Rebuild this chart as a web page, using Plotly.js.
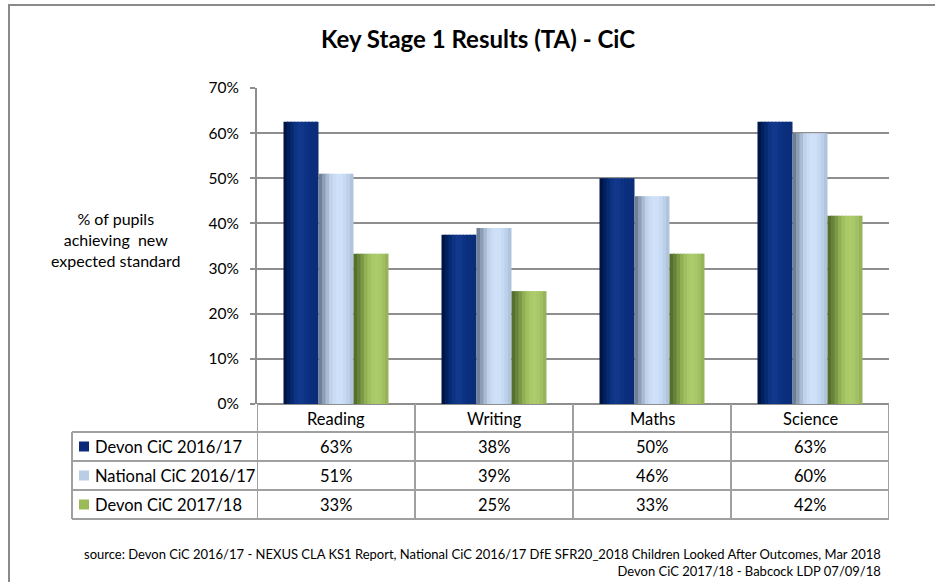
<!DOCTYPE html>
<html>
<head>
<meta charset="utf-8">
<script src="https://cdn.plot.ly/plotly-3.0.1.min.js"></script>
<style>
html,body{margin:0;padding:0;background:#fff;}
#chart{width:935px;height:582px;}
</style>
</head>
<body>
<div id="chart"></div>
<script>
// ---- data ----
const categories = ['Reading', 'Writing', 'Maths', 'Science'];
const seriesNames = ['Devon CiC 2016/17', 'National CiC 2016/17', 'Devon CiC 2017/18'];
const devon1617 = [62.5, 37.5, 50.0, 62.5];
const national1617 = [51.0, 39.0, 46.0, 60.0];
const devon1718 = [33.3, 25.0, 33.3, 41.7];
const yTickVals = [0, 10, 20, 30, 40, 50, 60, 70];
const titleText = 'Key Stage 1 Results (TA) - CiC';
const yLabel = '% of pupils<br>achieving  new<br>expected standard';
const sourceText = 'source: Devon CiC 2016/17 - NEXUS CLA KS1 Report, National CiC 2016/17 DfE SFR20_2018 Children Looked After Outcomes, Mar 2018<br>Devon CiC 2017/18 - Babcock LDP 07/09/18';

// ---- styles ----
const seriesValues = [devon1617, national1617, devon1718];
const keyColors = ['#0d2a78', '#b9cde5', '#9bbb59'];
const shades = [
  ['#001445','#00205e','#072a74','#0d3383','#11388b','#10378a','#0c3284','#0a2f7e','#0a2e7c','#0b2d78'],
  ['#6f7f98','#8d9db4','#a9bbd2','#bfd2ea','#c9dcf4','#cfe1f8','#cde0f7','#c6daf3','#bcd0ea','#b0c4de'],
  ['#55702c','#67833a','#7c9a46','#91b054','#a0bf60','#a9c867','#accb6a','#a9c868','#a2c063','#97b45a']
];
const font = 'Lato, "Open Sans", sans-serif';
const W = 935, H = 582;
const L = 257, R = 889, T = 88, B = 404;
const px = x => (x - L) / (R - L);
const py = y => (B - y) / (B - T);

const barW = 0.2215;
const N = 10;
const traces = [];
seriesValues.forEach((vals, s) => {
  const base = -1.5 * barW + s * barW;
  for (let k = 0; k < N; k++) {
    const sw = barW / N;
    traces.push({
      type: 'bar',
      x: categories,
      y: vals,
      name: seriesNames[s],
      showlegend: false,
      hoverinfo: 'skip',
      offset: base + k * sw,
      width: (k === N - 1) ? sw : sw * 1.4,
      marker: {color: shades[s][k], line: {width: 0}}
    });
  }
});

const gridGray = '#8e8e8e';
const tableGray = '#a0a0a0';
const shapes = [];
// outer border
shapes.push({type:'rect', xref:'paper', yref:'paper', x0:px(9), x1:px(960), y0:py(5), y1:py(600), line:{color:'#8a8a8a', width:2}, fillcolor:'rgba(0,0,0,0)', layer:'below'});
// table horizontal lines
[432, 461, 490, 519].forEach(y => {
  shapes.push({type:'line', xref:'paper', yref:'paper', x0:px(72), x1:px(R), y0:py(y), y1:py(y), line:{color:tableGray, width:2}});
});
// table vertical lines
shapes.push({type:'line', xref:'paper', yref:'paper', x0:px(72), x1:px(72), y0:py(432), y1:py(519), line:{color:tableGray, width:2}});
for (let i = 0; i <= categories.length; i++) {
  shapes.push({type:'line', xref:'x', yref:'paper', x0:i - 0.5, x1:i - 0.5, y0:py(404), y1:py(519), line:{color:tableGray, width:2}});
}
const rowMid = [446.5, 475.5, 504.5];
// legend keys
rowMid.forEach((y, s) => {
  shapes.push({type:'rect', xref:'paper', yref:'paper', x0:px(79), x1:px(89), y0:py(y - 5), y1:py(y + 5), line:{width:0}, fillcolor:keyColors[s]});
});

const annotations = [];
const cellSize = 16.5;
categories.forEach((c, i) => {
  annotations.push({xref:'x', yref:'paper', x:i, y:py(419), text:c, showarrow:false, xanchor:'center', yanchor:'middle', font:{family:font, size:cellSize, color:'#000'}});
  seriesValues.forEach((vals, s) => {
    annotations.push({xref:'x', yref:'paper', x:i, y:py(rowMid[s]), text:Math.round(vals[i]) + '%', showarrow:false, xanchor:'center', yanchor:'middle', font:{family:font, size:cellSize, color:'#000'}});
  });
});
seriesNames.forEach((n, s) => {
  annotations.push({xref:'paper', yref:'paper', x:px(93), y:py(rowMid[s]), text:n, showarrow:false, xanchor:'left', yanchor:'middle', font:{family:font, size:cellSize, color:'#000'}});
});
annotations.push({xref:'paper', yref:'paper', x:px(116), y:py(239), text:yLabel, showarrow:false, xanchor:'center', yanchor:'middle', align:'center', font:{family:font, size:16, color:'#000'}});
annotations.push({xref:'paper', yref:'paper', x:px(883), y:py(562), text:sourceText, showarrow:false, xanchor:'right', yanchor:'middle', align:'right', font:{family:font, size:13, color:'#000'}});

const layout = {
  width: W, height: H,
  margin: {l: L, r: W - R, t: T, b: H - B, pad: 0},
  paper_bgcolor: '#fff', plot_bgcolor: '#fff',
  barmode: 'overlay',
  title: {text: '<b>' + titleText + '</b>', x: 478 / W, xanchor: 'center', y: 1 - 40 / H, yanchor: 'middle', font: {family: font, size: 24, color: '#000'}},
  xaxis: {type: 'category', range: [-0.5, 3.5], showticklabels: false, showgrid: false, showline: false, zeroline: false, ticks: '', fixedrange: true},
  yaxis: {range: [0, 70], tickvals: yTickVals, ticktext: yTickVals.map(v => v + '%'), showgrid: true, gridcolor: gridGray, gridwidth: 2,
    showline: true, linecolor: gridGray, linewidth: 2, zeroline: true, zerolinecolor: gridGray, zerolinewidth: 2,
    ticks: 'outside', ticklen: 5, tickcolor: gridGray, tickwidth: 2, ticklabelstandoff: 8,
    tickfont: {family: font, size: 15.5, color: '#000'}, fixedrange: true},
  shapes: shapes,
  annotations: annotations,
  showlegend: false
};

Plotly.newPlot('chart', traces, layout, {staticPlot: true, displayModeBar: false});
</script>
</body>
</html>
